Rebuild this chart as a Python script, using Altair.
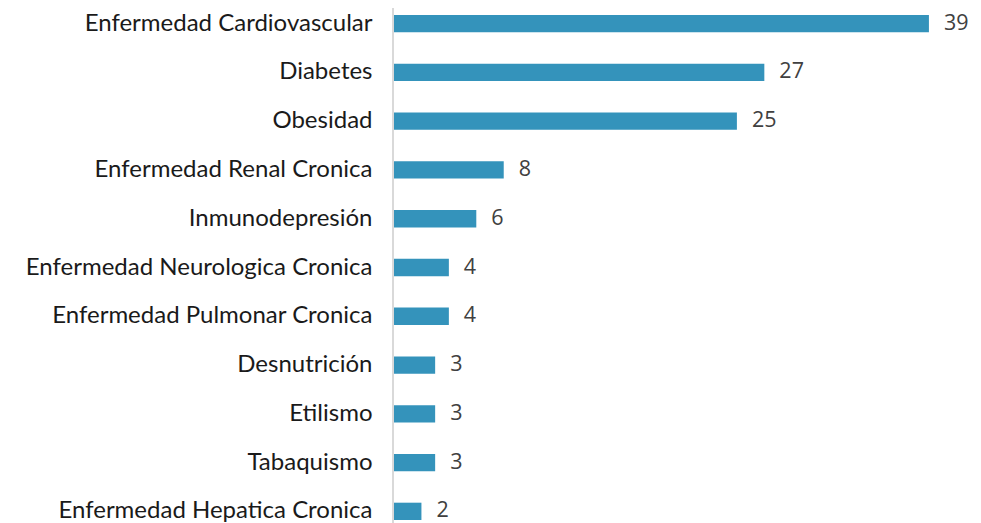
import altair as alt
import pandas as pd

categories = [
    "Enfermedad Cardiovascular",
    "Diabetes",
    "Obesidad",
    "Enfermedad Renal Cronica",
    "Inmunodepresión",
    "Enfermedad Neurologica Cronica",
    "Enfermedad Pulmonar Cronica",
    "Desnutrición",
    "Etilismo",
    "Tabaquismo",
    "Enfermedad Hepatica Cronica",
]
values = [39, 27, 25, 8, 6, 4, 4, 3, 3, 3, 2]

df = pd.DataFrame({"cat": categories, "val": values})

W = 540
H = 505
XMAX = 39.37

y_enc = alt.Y("cat:N", sort=categories,
              scale=alt.Scale(paddingInner=0.645, paddingOuter=0),
              axis=alt.Axis(title=None, domain=False, ticks=False, labelPadding=22,
                            labelFont="Lato", labelFontSize=24, labelColor="#1a1a1a",
                            labelLimit=400))
x_enc = alt.X("val:Q", scale=alt.Scale(domain=[0, XMAX], nice=False, zero=True),
              axis=None)

rule = alt.Chart(df).mark_rule(color="#d9d9d9", strokeWidth=2).encode(
    x=alt.value(-1), y=alt.value(-10), y2=alt.value(H + 20)
)

bars = alt.Chart(df).mark_bar(color="#3493bb").encode(x=x_enc, y=y_enc)

text = alt.Chart(df).mark_text(align="left", baseline="middle", dx=15,
                               font="Open Sans", fontSize=21.5, color="#404040").encode(
    x=x_enc, y=y_enc, text="val:Q"
)

chart = alt.layer(rule, bars, text).properties(
    width=W, height=H,
    autosize=alt.AutoSizeParams(type="none"),
    padding={"left": 386, "top": 7, "right": 39, "bottom": 12},
    background="white",
).configure_view(stroke=None)

chart.save("out.html", embed_options={"renderer": "svg", "actions": False})
